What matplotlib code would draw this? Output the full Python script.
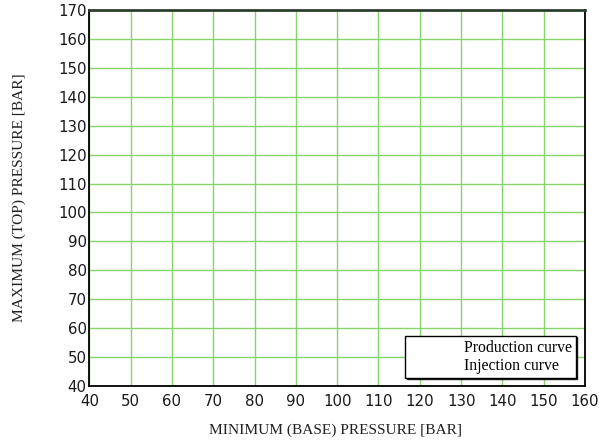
import numpy as np
import matplotlib.pyplot as plt

# Axis ranges and ticks
x_ticks = list(range(40, 161, 10))
y_ticks = list(range(40, 171, 10))

# Curves (no points recorded yet)
production_base = []
production_top = []
injection_base = []
injection_top = []

serif = 'Liberation Serif'


def main():
    fig = plt.figure(figsize=(6.06, 4.47), dpi=100)
    ax = fig.add_axes([0.1475, 0.1365, 0.8178, 0.8411])

    ax.plot(production_base, production_top, color='red', label='Production curve')
    ax.plot(injection_base, injection_top, color='blue', label='Injection curve')

    ax.set_xlim(x_ticks[0], x_ticks[-1])
    ax.set_ylim(y_ticks[0], y_ticks[-1])
    ax.set_xticks(x_ticks)
    ax.set_yticks(y_ticks)
    ax.tick_params(axis='both', length=0, labelsize=10.8, labelcolor='#1a1a1a')
    ax.tick_params(axis='x', pad=6)
    ax.tick_params(axis='y', pad=2)
    ax.grid(True, color='#86d46a', linewidth=1.0)
    ax.set_axisbelow(True)

    for side in ['left', 'bottom', 'right']:
        ax.spines[side].set_color('black')
        ax.spines[side].set_linewidth(1.3)
    ax.spines['top'].set_color('#2f3f2f')
    ax.spines['top'].set_linewidth(2.0)

    ax.set_xlabel('MINIMUM (BASE) PRESSURE [BAR]', family=serif, fontsize=11.1,
                  color='#222222')
    ax.set_ylabel('MAXIMUM (TOP) PRESSURE [BAR]', family=serif, fontsize=11.1,
                  color='#222222')
    ax.xaxis.set_label_coords(0.497, -0.1)
    ax.yaxis.set_label_coords(-0.128, 0.5)

    leg = ax.legend(loc='lower right', bbox_to_anchor=(0.982, 0.021),
                    prop={'family': serif, 'size': 11.3},
                    frameon=True, fancybox=False,
                    shadow={'color': '0.1', 'alpha': 1, 'ox': 0.9, 'oy': -0.9},
                    edgecolor='black', framealpha=1, borderaxespad=0,
                    handlelength=3.2, handletextpad=0.3, labelspacing=0.15,
                    borderpad=0.25)
    leg.get_frame().set_linewidth(1.0)
    for h in leg.legend_handles:
        h.set_visible(False)

    fig.savefig('out.png', dpi=100)


if __name__ == '__main__':
    main()
